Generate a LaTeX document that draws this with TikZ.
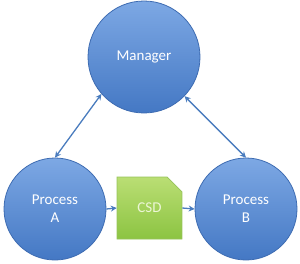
\documentclass[tikz,border=0pt]{standalone}
\usepackage{fontspec}
\setmainfont{Carlito}
\usetikzlibrary{shapes.misc, arrows.meta, positioning}

\definecolor{procTop}{RGB}{125,168,228}
\definecolor{procBot}{RGB}{68,120,196}
\definecolor{procLine}{RGB}{62,108,178}
\definecolor{csdTop}{RGB}{186,222,116}
\definecolor{csdBot}{RGB}{140,196,66}
\definecolor{csdLine}{RGB}{150,195,90}
\definecolor{csdText}{RGB}{236,246,214}
\definecolor{linkBlue}{RGB}{74,124,190}

\begin{document}
\begin{tikzpicture}[
    x=1pt, y=1pt,
    proc/.style={
        circle, draw=procLine, line width=0.8pt,
        top color=procTop, bottom color=procBot,
        minimum size=102pt, inner sep=0pt,
        align=center, text=white, font=\fontsize{15}{18}\selectfont
    },
    mgr/.style={proc, minimum size=112pt},
    csdbox/.style={
        chamfered rectangle, chamfered rectangle corners=north east,
        chamfered rectangle xsep=10pt, chamfered rectangle ysep=10pt,
        draw=csdLine, line width=0.6pt,
        top color=csdTop, bottom color=csdBot,
        minimum width=65pt, minimum height=62pt, inner sep=0pt,
        text=csdText, font=\fontsize{15}{18}\selectfont
    },
    link/.style={-{Stealth[length=6pt, width=6pt]}, line width=1.3pt, linkBlue},
    duplex/.style={link, {Stealth[length=6pt, width=6pt]}-{Stealth[length=6pt, width=6pt]}}
]
\useasboundingbox (0,0) rectangle (300,263);

% Nodes
\node[mgr] (man) at (144,206) {Manager};
\node[proc] (pa) at (55,54) {Process\\A};
\node[proc] (pb) at (246,54) {Process\\B};
\node[csdbox] (csd) at (149.5,55) {CSD};

% Data flow
\draw[link] (pa.east) -- (csd.west);
\draw[link] (csd.east) -- (pb.west);

% Control links
\draw[duplex] (man.221) -- (pa.north);
\draw[duplex] (man.316) -- (pb.north);

\end{tikzpicture}
\end{document}
